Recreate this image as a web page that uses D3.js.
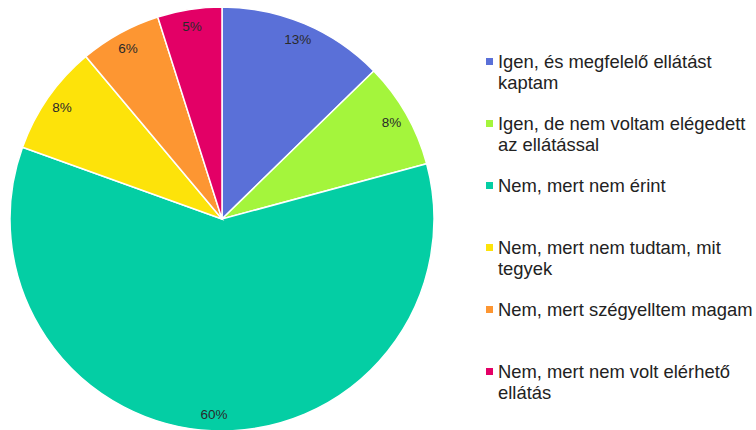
<!DOCTYPE html>
<html>
<head>
<meta charset="utf-8">
<script src="https://cdn.jsdelivr.net/npm/d3@7"></script>
<style>
  body { margin: 0; background: #fff; }
  svg { display: block; font-family: "Liberation Sans", Arial, sans-serif; }
</style>
</head>
<body>
<div id="chart-container"></div>
<script>
// answers (legend labels, each split into lines)
const categories = [
    ["Igen, és megfelelő ellátást", "kaptam"],
    ["Igen, de nem voltam elégedett", "az ellátással"],
    ["Nem, mert nem érint"],
    ["Nem, mert nem tudtam, mit", "tegyek"],
    ["Nem, mert szégyelltem magam"],
    ["Nem, mert nem volt elérhető", "ellátás"]
];
// share of respondents, %
const values = [12.7, 8.1, 59.7, 8.4, 6.2, 4.9];
const colors = ["#5a70d8", "#a4f53c", "#04cea4", "#fde30a", "#fd9632", "#e30066"];

function init() {
    const width = 756;
    const height = 430;
    const cx = 222, cy = 219;
    const radius = 212;

    const svg = d3.select("#chart-container")
        .append("svg")
        .attr("width", width)
        .attr("height", height);

    const g = svg.append("g")
        .attr("transform", `translate(${cx},${cy})`);

    const pie = d3.pie().sort(null).value(d => d);
    const arc = d3.arc().innerRadius(0).outerRadius(radius);
    const labelArc = d3.arc().innerRadius(radius * 0.92).outerRadius(radius * 0.92);

    const arcs = g.selectAll("g.slice")
        .data(pie(values))
        .enter()
        .append("g")
        .attr("class", "slice");

    arcs.append("path")
        .attr("d", arc)
        .attr("fill", (d, i) => colors[i])
        .attr("stroke", "#fff")
        .attr("stroke-width", 1.5);

    arcs.append("text")
        .attr("transform", d => `translate(${labelArc.centroid(d)})`)
        .attr("text-anchor", "middle")
        .attr("dy", "0.35em")
        .attr("font-size", 13.5)
        .attr("fill", "#2a2a2a")
        .text(d => Math.round(d.data) + "%");

    // legend
    const legend = svg.append("g")
        .attr("transform", "translate(486,0)");

    const items = legend.selectAll("g.item")
        .data(categories)
        .enter()
        .append("g")
        .attr("class", "item")
        .attr("transform", (d, i) => `translate(0,${62 + i * 62})`);

    items.append("rect")
        .attr("x", 0)
        .attr("y", -4)
        .attr("width", 7)
        .attr("height", 7)
        .attr("fill", (d, i) => colors[i]);

    items.append("text")
        .attr("x", 12)
        .attr("font-size", 18.4)
        .attr("fill", "#222")
        .selectAll("tspan")
        .data(d => d)
        .enter()
        .append("tspan")
        .attr("x", 12)
        .attr("y", (d, i) => i * 20.8)
        .attr("dy", "0.35em")
        .text(d => d);
}

window.onload = init;
</script>
</body>
</html>
